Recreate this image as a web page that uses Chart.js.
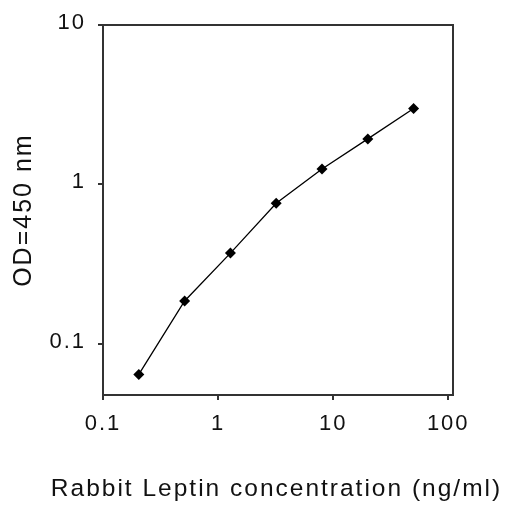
<!DOCTYPE html>
<html>
<head>
<meta charset="utf-8">
<script src="https://cdn.jsdelivr.net/npm/chart.js@4"></script>
<style>
  html, body { margin: 0; padding: 0; background: #ffffff; }
  #wrap { width: 509px; height: 508px; }
</style>
</head>
<body>
<div id="wrap"><canvas id="c" width="509" height="508"></canvas></div>
<script>
// ---- data ----
const concentrations = [0.2048, 0.512, 1.28, 3.2, 8, 20, 50];      // ng/ml
const odValues       = [0.064, 0.185, 0.37, 0.76, 1.25, 1.93, 3.0]; // OD 450 nm
const xTickValues = [0.1, 1, 10, 100];
const yTickValues = [0.1, 1, 10];
const xTitle = 'Rabbit Leptin concentration (ng/ml)';
const yTitle = 'OD=450 nm';

const AXIS = '#333333';
const TEXT = '#111111';
const FONT = 'Liberation Sans, Arial, sans-serif';

const points = concentrations.map((x, i) => ({ x: x, y: odValues[i] }));

const spacingPlugin = {
  id: 'spacing',
  beforeDraw(chart) { chart.ctx.letterSpacing = '2px'; }
};

function fixTicks(values) {
  return function (scale) { scale.ticks = values.map(v => ({ value: v })); };
}

new Chart(document.getElementById('c'), {
  type: 'line',
  data: {
    datasets: [{
      data: points,
      borderColor: '#000000',
      borderWidth: 1.3,
      backgroundColor: '#000000',
      pointStyle: 'rectRot',
      pointRadius: 5.5,
      pointBorderWidth: 0,
      pointBackgroundColor: '#000000',
      tension: 0,
      fill: false
    }]
  },
  options: {
    responsive: false,
    animation: false,
    layout: { padding: { left: 44, top: 25, right: 0, bottom: 0 } },
    plugins: {
      legend: { display: false },
      tooltip: { enabled: false },
      title: {
        display: true,
        position: 'bottom',
        text: xTitle,
        color: TEXT,
        font: { family: FONT, size: 24.5, weight: 'normal', lineHeight: 1.2 },
        padding: { top: 0, bottom: 4.5 }
      }
    },
    scales: {
      x: {
        type: 'logarithmic',
        position: 'bottom',
        min: 0.1,
        max: 110,
        afterBuildTicks: fixTicks(xTickValues),
        afterFit(scale) { scale.height = 79.1; },
        grid: { display: true, drawOnChartArea: false, drawTicks: true, tickLength: 5, color: AXIS, lineWidth: 2 },
        border: { display: true, color: AXIS, width: 2 },
        ticks: {
          color: TEXT,
          font: { family: FONT, size: 22 },
          padding: 11,
          maxRotation: 0,
          autoSkip: false,
          callback: (v) => String(v)
        }
      },
      y: {
        type: 'logarithmic',
        position: 'left',
        min: 0.0475,
        max: 10,
        afterBuildTicks: fixTicks(yTickValues),
        afterFit(scale) { scale.width = 59; },
        grid: { display: true, drawOnChartArea: false, drawTicks: true, tickLength: 5, color: AXIS, lineWidth: 2 },
        border: { display: true, color: AXIS, width: 2 },
        ticks: {
          color: TEXT,
          font: { family: FONT, size: 22 },
          padding: 12,
          labelOffset: -2,
          autoSkip: false,
          callback: (v) => String(v)
        },
        title: {
          display: true,
          text: yTitle,
          color: TEXT,
          font: { family: FONT, size: 25, lineHeight: 1.2 },
          padding: { top: -35, bottom: 0 }
        }
      },
      xTop: {
        type: 'logarithmic',
        position: 'top',
        min: 0.1,
        max: 110,
        afterFit(scale) { scale.height = 0; },
        grid: { display: false },
        border: { display: true, color: AXIS, width: 2 },
        ticks: { display: false }
      },
      yRight: {
        type: 'logarithmic',
        position: 'right',
        min: 0.0475,
        max: 10,
        afterFit(scale) { scale.width = 56; },
        grid: { display: false },
        border: { display: true, color: AXIS, width: 2 },
        ticks: { display: false }
      }
    }
  },
  plugins: [spacingPlugin]
});
</script>
</body>
</html>
